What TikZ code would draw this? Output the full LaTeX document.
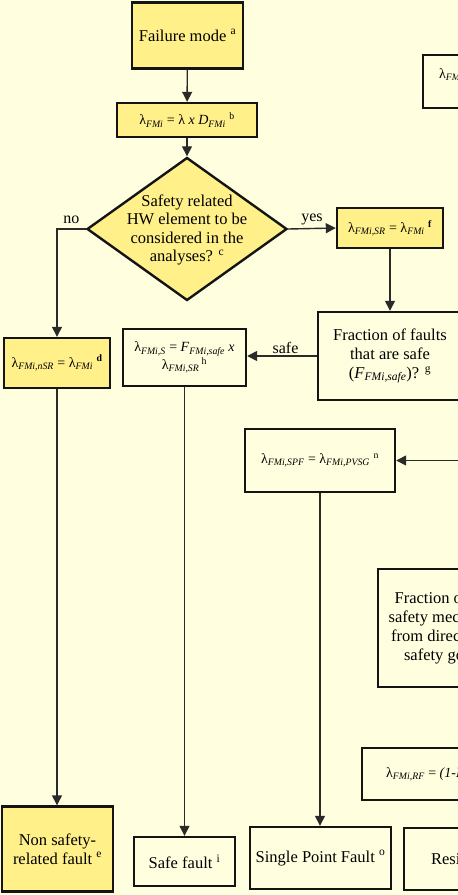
\documentclass[tikz,border=0pt]{standalone}
\usepackage{fontspec}
\setmainfont{Liberation Serif}
\usetikzlibrary{arrows.meta,shapes.geometric}
\definecolor{bgc}{HTML}{FFFFE0}
\definecolor{ylw}{HTML}{FFF08A}
\definecolor{ink}{HTML}{141414}
\definecolor{lnk}{HTML}{2A2A2A}
\newcommand{\lmb}[1]{λ\textsubscript{\itshape #1}}
\begin{document}
\begin{tikzpicture}[x=1pt,y=-1pt,
  box/.style={draw=ink,line width=2.4pt,inner sep=0pt,align=center,font=\fontsize{16.5}{19}\selectfont},
  frm/.style={font=\fontsize{14}{16}\selectfont},
  yel/.style={fill=ylw},
  plain/.style={fill=bgc},
  conn/.style={draw=lnk,line width=1.4pt},
  arr/.style={conn,-{Triangle[length=10pt,width=10pt]}},
  lbl/.style={font=\fontsize{16}{18}\selectfont,inner sep=1pt}]
\useasboundingbox (0,0) rectangle (458,895);
\fill[bgc] (0,0) rectangle (458,895);
\begin{scope}
\clip (0,0) rectangle (458,895);
% nodes
\node[box,yel,minimum width=111pt,minimum height=66pt] (fm) at (187.5,35.5) {Failure mode \textsuperscript{a}};
\node[box,yel,frm,minimum width=140pt,minimum height=34pt] (fb) at (187,120) {\lmb{FMi} = λ \textit{x D}\textsubscript{\itshape FMi} \textsuperscript{b}};
\node[diamond,draw=ink,line width=2.4pt,fill=ylw,inner sep=0pt,minimum width=200pt,minimum height=143pt,
  label={[align=center,font=\fontsize{16.5}{18.6}\selectfont,yshift=-1pt]center:Safety related\\HW element to be\\considered in the\\analyses? \textsuperscript{c}}] (dia) at (187,229) {};
\node[box,yel,frm,minimum width=106pt,minimum height=40pt] (sr) at (390,228) {\lmb{FMi,SR} = \lmb{FMi} \textsuperscript{\bfseries f}};
\node[box,yel,frm,minimum width=106pt,minimum height=50pt] (nsr) at (57,363) {\lmb{FMi,nSR} = \lmb{FMi} \textsuperscript{\bfseries d}};
\node[box,yel,minimum width=111pt,minimum height=85pt] (nsf) at (57.5,849) {Non safety-\\related fault \textsuperscript{e}};
\node[box,plain,minimum width=144pt,minimum height=88pt] (fs) at (390,356) {Fraction of faults\\that are safe\\(\textit{F}\textsubscript{\itshape FMi,safe})? \textsuperscript{g}};
\node[box,plain,frm,minimum width=123pt,minimum height=57pt] (sb) at (184.5,357.5) {\lmb{FMi,S} = \textit{F}\textsubscript{\itshape FMi,safe} \textit{x}\\\lmb{FMi,SR}\,\textsuperscript{h}};
\node[box,plain,minimum width=101pt,minimum height=49pt] (sf) at (184.5,861.5) {Safe fault \textsuperscript{i}};
\node[box,plain,frm,minimum width=150pt,minimum height=63pt] (spf) at (320,460.5) {\lmb{FMi,SPF} = \lmb{FMi,PVSG} \textsuperscript{n}};
\node[box,plain,minimum width=141pt,minimum height=62pt] (spff) at (320.5,858) {Single Point Fault \textsuperscript{o}};
\node[box,plain,minimum width=150pt,minimum height=62pt] (rf) at (479,859) {Residual Fault};
\node[box,plain,frm,anchor=north west,inner xsep=16pt,inner ysep=12pt,text height=11pt,text depth=18pt] (tr) at (422,54) {\lmb{FMi,PVSG}};
\node[box,plain,frm,anchor=west,inner xsep=24pt,minimum height=52pt] (rfb) at (361,774) {\lmb{FMi,RF} = \textit{(1-K}\textsubscript{\itshape FMC,RF}\textit{)}};
\node[box,plain,minimum width=200pt,minimum height=118pt] (kfm) at (478,628) {Fraction of faults that the\\safety mechanism prevents\\from directly violating the\\safety goal (\textit{K}\textsubscript{\itshape FMC,RF})?};
\coordinate (spfin) at (470,460.5);
% connectors
\draw[arr] (fm) -- (fb);
\draw[arr] (fb) -- (dia);
\draw[arr] (dia.east) -- (sr.west) node[lbl,midway,above=2pt] {yes};
\draw[arr] (dia.west) -| (nsr.north) node[lbl,pos=0.25,above=4pt] {no};
\draw[arr] (sr) -- (fs);
\draw[arr] (fs.west) -- (fs.west -| sb.east) node[lbl,pos=0.45,above=1pt] {safe};
\draw[arr] (nsr.south) -- (nsr.south |- nsf.north);
\draw[arr] (sb) -- (sf);
\draw[arr] (spf.south) -- (spf.south |- spff.north);
\draw[arr] (spfin) -- (spf.east);
\end{scope}
\end{tikzpicture}
\end{document}
